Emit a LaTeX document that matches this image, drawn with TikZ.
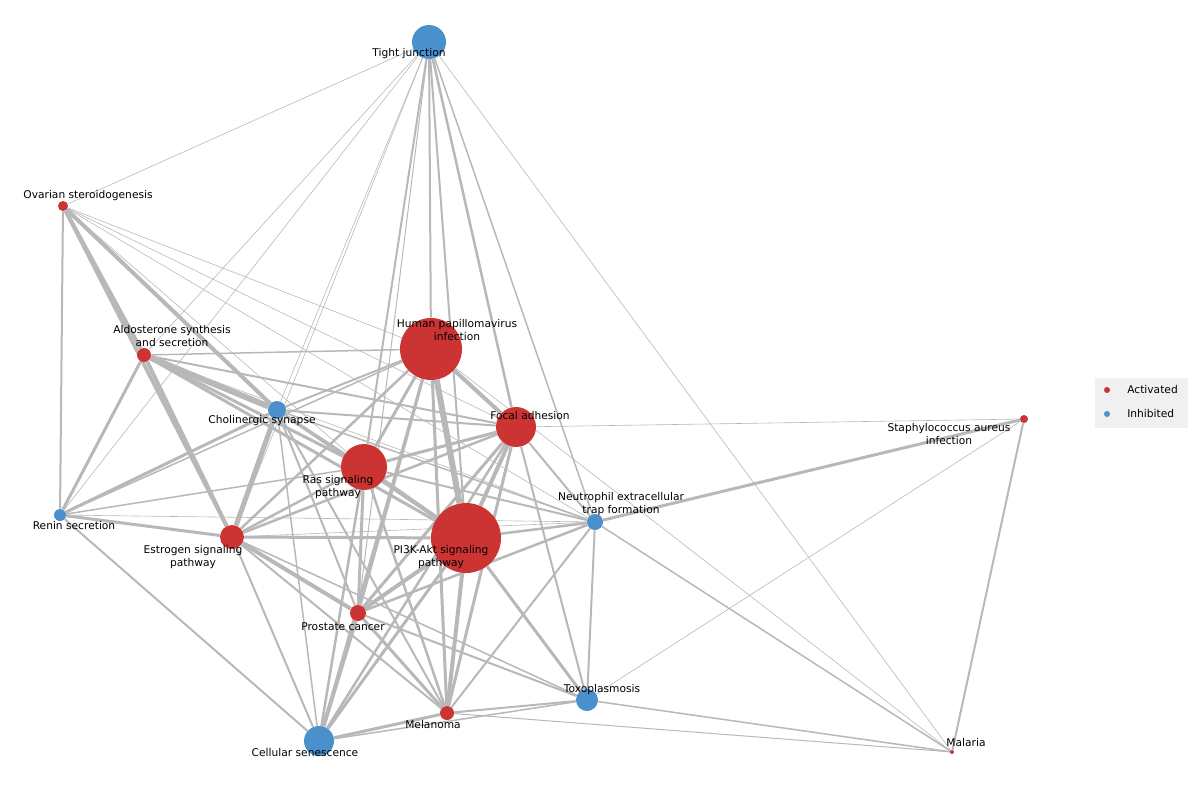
\documentclass[tikz,border=0pt]{standalone}
\usepackage{fontspec}
\setmainfont{DejaVu Sans}
\usetikzlibrary{backgrounds}
\definecolor{act}{HTML}{CC3333}
\definecolor{inh}{HTML}{4A90CC}
\definecolor{edge}{HTML}{B8B8B8}
\tikzset{
  pt/.style={circle,inner sep=0pt,draw=none},
  lab/.style={font=\fontsize{8}{10}\selectfont,align=center,inner sep=0pt},
  e/.style={draw=edge,line width=#1*0.75pt},
}
\begin{document}
\begin{tikzpicture}[x=0.75pt,y=-0.75pt]
\useasboundingbox (0,0) rectangle (1200,800);
\foreach \n/\x/\y/\r/\c in {tj/429/42/17/inh, ov/63/206/5/act, al/144/355/7/act, hpv/431/349/31/act,
 ch/277/410/9/inh, fa/516/427/20/act, ras/364/467/23/act, st/1024/419/4/act, re/60/515/6/inh,
 ne/595/522/8/inh, es/232/537/12/act, pi/466/538/35/act, pr/358/613/8/act, to/587/700/11/inh,
 me/447/713/7/act, ce/319/741/15/inh, ma/952/752/2/act}
 \node[pt,fill=\c,minimum size=2*\r*0.75pt] (\n) at (\x,\y) {};
\begin{scope}[on background layer]
\foreach \a/\b/\w in {ov/al/4, ov/ch/4, ov/es/3.5, al/ch/6, al/es/4, al/re/3, al/ras/3, al/pi/3,
 ch/es/5, ch/ras/3, ch/pi/3, ch/re/3, hpv/pi/6, hpv/fa/4, hpv/ras/3, hpv/tj/2, fa/pi/4, fa/ras/3,
 ras/pi/4, pi/pr/4, pi/me/4, es/pr/4, es/pi/3, es/re/3, ne/st/3, me/pr/3, ce/pr/4, ce/pi/3,
 ce/me/3, to/pi/3, hpv/es/2.5, hpv/pr/3, hpv/me/3, hpv/ce/2.5, fa/es/2.5, fa/pr/3, fa/me/3, fa/ce/2.5,
 fa/ne/2, fa/to/2, ras/es/2.5, ras/pr/3, ras/me/2.5, ras/ce/2.5, ras/ne/2, pi/ne/2.5, pr/ne/2.5,
 ne/to/2, ne/me/2, pr/to/2, me/to/2, es/ce/2, es/me/2, ch/fa/2, ch/hpv/2, al/fa/2, al/hpv/1.5,
 ov/re/2, re/ce/2, re/ras/1.5, re/hpv/1.5, tj/fa/2.5, tj/ras/2, tj/pi/2, tj/ne/1.5, tj/pr/1,
 ma/st/2, ma/ne/1.5, ma/to/1.5, ma/me/1, ch/ne/1.5, ch/pr/2, ch/me/2, ch/ce/1.5, es/to/1.5,
 ce/to/1.5, pr/fa/2}
 \path[e=\w] (\a) -- (\b);
\foreach \a/\b in {tj/ov, tj/al, tj/ch, tj/re, tj/ma, ov/ne, ov/fa, ov/hpv, st/to, st/fa,
 hpv/ma, al/ne, re/ne, es/ne, ov/ras, tj/es}
 \path[e=0.6] (\a) -- (\b);
\end{scope}
\node[lab] at (409,54) {Tight junction};
\node[lab] at (88,196) {Ovarian steroidogenesis};
\node[lab] at (172,336) {Aldosterone synthesis\\and secretion};
\node[lab] at (457,330) {Human papillomavirus\\infection};
\node[lab] at (262,421) {Cholinergic synapse};
\node[lab] at (530,416) {Focal adhesion};
\node[lab] at (338,487) {Ras signaling\\pathway};
\node[lab] at (949,434) {Staphylococcus aureus\\infection};
\node[lab] at (74,526) {Renin secretion};
\node[lab] at (621,504) {Neutrophil extracellular\\trap formation};
\node[lab] at (193,557) {Estrogen signaling\\pathway};
\node[lab] at (441,557) {PI3K-Akt signaling\\pathway};
\node[lab] at (343,627) {Prostate cancer};
\node[lab] at (602,690) {Toxoplasmosis};
\node[lab] at (433,725) {Melanoma};
\node[lab] at (305,753) {Cellular senescence};
\node[lab] at (966,743) {Malaria};
\fill[black!6] (1095,378) rectangle (1188,428);
\node[pt,fill=act,minimum size=4.5pt] (la) at (1107,390) {};
\node[pt,fill=inh,minimum size=4.5pt] (li) at (1107,414) {};
\node[lab,anchor=west] at (1127,390) {Activated};
\node[lab,anchor=west] at (1127,414) {Inhibited};
\end{tikzpicture}
\end{document}
